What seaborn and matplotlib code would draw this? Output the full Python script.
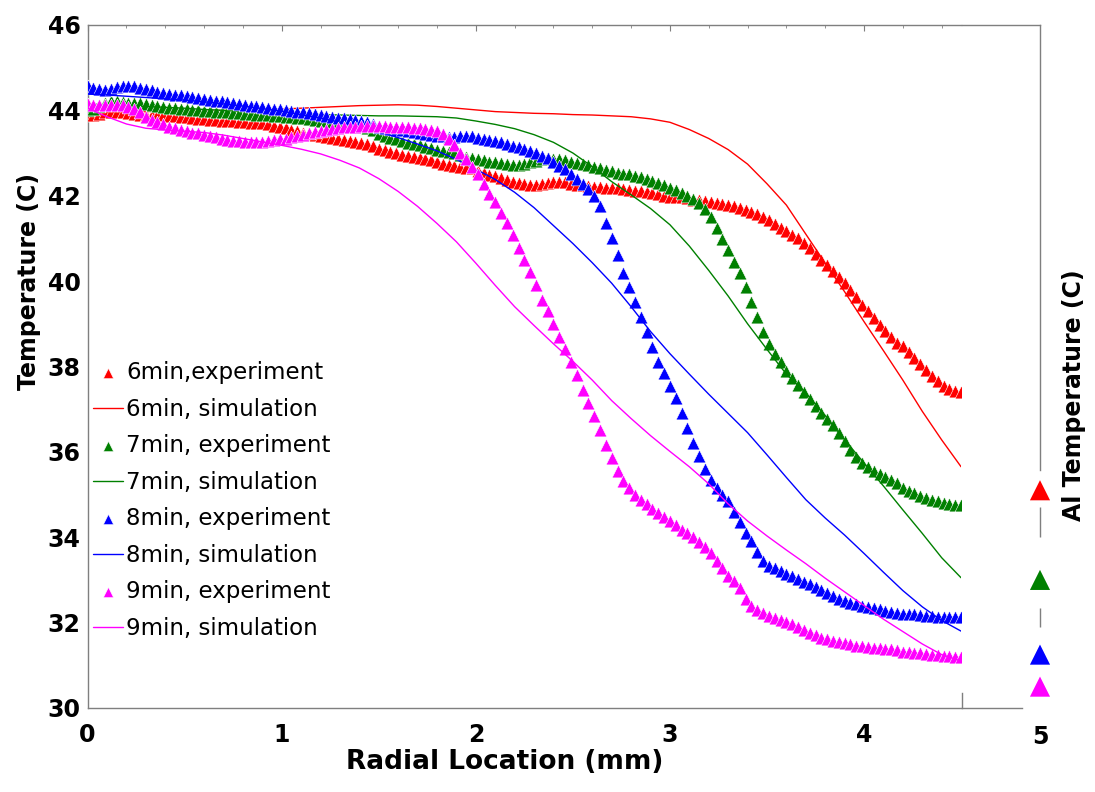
import numpy as np
import matplotlib
matplotlib.use("Agg")
import matplotlib.pyplot as plt
import seaborn as sns
from matplotlib.ticker import MultipleLocator

# radial positions (mm): experiment sampled every 0.03 mm, simulation every 0.1 mm
r_exp = np.round(np.arange(151) * 0.03, 2)
r_sim = np.round(np.arange(46) * 0.1, 1)

exp_6min = [
    43.90, 43.90, 43.92, 43.95, 43.96, 43.96, 43.95, 43.93, 43.91, 43.90,
    43.90, 43.89, 43.89, 43.88, 43.87, 43.86, 43.85, 43.84, 43.82, 43.80,
    43.79, 43.78, 43.77, 43.76, 43.75, 43.74, 43.73, 43.72, 43.71, 43.70,
    43.70, 43.68, 43.64, 43.61, 43.58, 43.55, 43.51, 43.48, 43.45, 43.42,
    43.40, 43.38, 43.36, 43.34, 43.31, 43.28, 43.26, 43.24, 43.21, 43.17,
    43.10, 43.06, 43.02, 42.99, 42.96, 42.93, 42.90, 42.88, 42.86, 42.83,
    42.79, 42.75, 42.72, 42.70, 42.68, 42.66, 42.64, 42.58, 42.54, 42.49,
    42.45, 42.41, 42.37, 42.33, 42.30, 42.27, 42.25, 42.25, 42.27, 42.30,
    42.31, 42.32, 42.31, 42.28, 42.25, 42.24, 42.23, 42.21, 42.20, 42.19,
    42.18, 42.17, 42.15, 42.13, 42.12, 42.10, 42.08, 42.06, 42.03, 42.00,
    41.98, 41.97, 41.96, 41.94, 41.91, 41.89, 41.87, 41.85, 41.83, 41.80,
    41.78, 41.75, 41.71, 41.67, 41.62, 41.56, 41.49, 41.42, 41.34, 41.25,
    41.17, 41.09, 41.00, 40.90, 40.78, 40.64, 40.50, 40.37, 40.23, 40.10,
    39.96, 39.80, 39.63, 39.45, 39.29, 39.13, 38.97, 38.82, 38.68, 38.56,
    38.47, 38.33, 38.19, 38.05, 37.92, 37.78, 37.65, 37.55, 37.47, 37.42,
    37.40,
]
exp_7min = [
    44.00, 44.03, 44.10, 44.18, 44.22, 44.22, 44.20, 44.18, 44.17, 44.16,
    44.14, 44.12, 44.10, 44.08, 44.06, 44.05, 44.03, 44.02, 44.01, 44.00,
    43.99, 43.98, 43.97, 43.96, 43.95, 43.94, 43.93, 43.92, 43.91, 43.90,
    43.89, 43.88, 43.87, 43.86, 43.85, 43.84, 43.83, 43.82, 43.80, 43.78,
    43.76, 43.74, 43.72, 43.70, 43.68, 43.66, 43.64, 43.62, 43.59, 43.55,
    43.45, 43.40, 43.36, 43.32, 43.28, 43.24, 43.21, 43.18, 43.14, 43.11,
    43.08, 43.05, 43.02, 42.99, 42.95, 42.91, 42.88, 42.85, 42.83, 42.80,
    42.78, 42.76, 42.74, 42.72, 42.72, 42.75, 42.78, 42.82, 42.86, 42.88,
    42.87, 42.85, 42.83, 42.80, 42.77, 42.74, 42.71, 42.68, 42.65, 42.61,
    42.57, 42.54, 42.52, 42.50, 42.47, 42.43, 42.39, 42.35, 42.30, 42.25,
    42.19, 42.13, 42.07, 42.00, 41.92, 41.82, 41.70, 41.50, 41.25, 40.98,
    40.72, 40.45, 40.18, 39.85, 39.50, 39.15, 38.80, 38.52, 38.30, 38.10,
    37.90, 37.73, 37.56, 37.40, 37.24, 37.08, 36.92, 36.78, 36.62, 36.45,
    36.25, 36.05, 35.88, 35.75, 35.64, 35.56, 35.48, 35.40, 35.33, 35.27,
    35.15, 35.09, 35.03, 34.97, 34.92, 34.88, 34.84, 34.80, 34.78, 34.76,
    34.75,
]
exp_8min = [
    44.58, 44.53, 44.49, 44.48, 44.50, 44.54, 44.58, 44.58, 44.56, 44.53,
    44.50, 44.47, 44.44, 44.41, 44.39, 44.37, 44.35, 44.33, 44.31, 44.29,
    44.27, 44.25, 44.23, 44.21, 44.19, 44.17, 44.15, 44.13, 44.11, 44.09,
    44.08, 44.06, 44.04, 44.03, 44.01, 43.99, 43.97, 43.95, 43.93, 43.91,
    43.89, 43.87, 43.85, 43.83, 43.81, 43.79, 43.77, 43.75, 43.72, 43.68,
    43.62, 43.59, 43.57, 43.55, 43.53, 43.51, 43.49, 43.47, 43.45, 43.43,
    43.41, 43.39, 43.37, 43.37, 43.40, 43.41, 43.39, 43.36, 43.33, 43.30,
    43.28, 43.25, 43.21, 43.17, 43.13, 43.09, 43.04, 42.99, 42.94, 42.88,
    42.80, 42.70, 42.62, 42.52, 42.40, 42.28, 42.16, 42.00, 41.75, 41.35,
    41.00, 40.60, 40.20, 39.85, 39.50, 39.15, 38.80, 38.45, 38.10, 37.85,
    37.55, 37.25, 36.90, 36.55, 36.20, 35.90, 35.60, 35.35, 35.15, 35.00,
    34.85, 34.60, 34.35, 34.10, 33.90, 33.65, 33.45, 33.33, 33.27, 33.22,
    33.14, 33.08, 33.02, 32.96, 32.90, 32.84, 32.76, 32.69, 32.62, 32.55,
    32.50, 32.46, 32.43, 32.40, 32.37, 32.34, 32.31, 32.28, 32.25, 32.23,
    32.21, 32.20, 32.19, 32.17, 32.16, 32.15, 32.14, 32.13, 32.13, 32.12,
    32.12,
]
exp_9min = [
    44.15, 44.13, 44.12, 44.12, 44.13, 44.13, 44.12, 44.08, 44.02, 43.95,
    43.85, 43.78, 43.72, 43.67, 43.62, 43.58, 43.54, 43.51, 43.48, 43.46,
    43.43, 43.40, 43.37, 43.34, 43.31, 43.29, 43.27, 43.26, 43.25, 43.25,
    43.26, 43.28, 43.30, 43.32, 43.34, 43.37, 43.40, 43.43, 43.46, 43.49,
    43.51, 43.54, 43.56, 43.58, 43.60, 43.61, 43.62, 43.63, 43.63, 43.63,
    43.63, 43.63, 43.62, 43.62, 43.61, 43.60, 43.59, 43.58, 43.57, 43.55,
    43.52, 43.45, 43.33, 43.18, 43.00, 42.85, 42.68, 42.50, 42.28, 42.05,
    41.85, 41.60, 41.36, 41.08, 40.78, 40.50, 40.22, 39.90, 39.56, 39.30,
    39.00, 38.70, 38.40, 38.10, 37.80, 37.45, 37.15, 36.85, 36.50, 36.15,
    35.85, 35.55, 35.32, 35.15, 35.00, 34.88, 34.77, 34.66, 34.56, 34.47,
    34.38, 34.28, 34.18, 34.10, 34.00, 33.88, 33.76, 33.62, 33.45, 33.28,
    33.10, 32.98, 32.80, 32.55, 32.40, 32.30, 32.22, 32.15, 32.10, 32.06,
    32.02, 31.96, 31.89, 31.82, 31.75, 31.70, 31.65, 31.61, 31.58, 31.55,
    31.52, 31.49, 31.46, 31.44, 31.42, 31.41, 31.40, 31.39, 31.37, 31.35,
    31.32, 31.30, 31.29, 31.28, 31.27, 31.25, 31.24, 31.22, 31.21, 31.20,
    31.20,
]

sim_6min = [
    43.95, 43.96, 43.97, 43.97, 43.98, 43.98, 43.99, 44.00, 44.01, 44.02,
    44.03, 44.05, 44.07, 44.09, 44.11, 44.12, 44.13, 44.12, 44.09, 44.05,
    44.01, 43.97, 43.95, 43.93, 43.92, 43.90, 43.89, 43.87, 43.85, 43.80,
    43.72, 43.55, 43.34, 43.08, 42.74, 42.28, 41.78, 41.10, 40.42, 39.75,
    39.05, 38.37, 37.68, 36.95, 36.28, 35.65,
]
sim_7min = [
    44.15, 44.13, 44.11, 44.09, 44.07, 44.05, 44.02, 44.00, 43.97, 43.95,
    43.93, 43.91, 43.90, 43.89, 43.88, 43.87, 43.87, 43.86, 43.85, 43.82,
    43.75, 43.67, 43.57, 43.43, 43.25, 43.00, 42.68, 42.33, 42.02, 41.70,
    41.32, 40.82, 40.25, 39.65, 39.00, 38.40, 37.82, 37.38, 36.85, 36.28,
    35.74, 35.20, 34.64, 34.09, 33.52, 33.05,
]
sim_8min = [
    44.38, 44.36, 44.33, 44.30, 44.27, 44.24, 44.20, 44.15, 44.10, 44.04,
    43.98, 43.90, 43.82, 43.72, 43.62, 43.50, 43.36, 43.21, 43.05, 42.85,
    42.62, 42.38, 42.08, 41.72, 41.30, 40.88, 40.43, 39.95, 39.40, 38.82,
    38.30, 37.82, 37.35, 36.90, 36.45, 35.93, 35.40, 34.88, 34.45, 34.05,
    33.62, 33.18, 32.75, 32.37, 32.05, 31.80,
]
sim_9min = [
    44.05, 43.85, 43.68, 43.58, 43.54, 43.51, 43.48, 43.42, 43.34, 43.26,
    43.18, 43.09, 42.98, 42.83, 42.65, 42.40, 42.10, 41.75, 41.35, 40.92,
    40.42, 39.90, 39.40, 38.96, 38.53, 38.12, 37.68, 37.20, 36.78, 36.38,
    36.01, 35.65, 35.25, 34.78, 34.38, 34.03, 33.70, 33.38, 33.04, 32.72,
    32.40, 32.08, 31.79, 31.50, 31.25, 31.10,
]

# Al temperature readings shown on the right-hand scale
al_x = [5, 5, 5, 5]
al_temp = [35.1, 33.0, 31.25, 30.5]

times = ["6min", "7min", "8min", "9min"]
colors = ["#FF0000", "#008000", "#0000FF", "#FF00FF"]
exp_labels = ["6min,experiment", "7min, experiment", "8min, experiment", "9min, experiment"]
sim_labels = ["6min, simulation", "7min, simulation", "8min, simulation", "9min, simulation"]

sns.set_style("white")
plt.rcParams["font.family"] = ["DejaVu Sans"]
grey = "#7f7f7f"

fig = plt.figure(figsize=(10.95, 7.92), dpi=100)
ax = fig.add_axes([0.080, 0.1061, 0.7977, 0.8624])

exp_series = [exp_6min, exp_7min, exp_8min, exp_9min]
sim_series = [sim_6min, sim_7min, sim_8min, sim_9min]
for i in range(4):
    sns.scatterplot(x=r_exp, y=exp_series[i], marker="^", s=85, color=colors[i],
                    edgecolor="white", linewidth=0.4, label=exp_labels[i],
                    zorder=3 + 2 * i, ax=ax)
    sns.lineplot(x=r_sim, y=sim_series[i], color=colors[i], linewidth=1.0,
                 label=sim_labels[i], zorder=4 + 2 * i, ax=ax)

ax.set_xlim(0, 4.5)
ax.set_ylim(30, 46)
ax.xaxis.set_major_locator(MultipleLocator(1))
ax.xaxis.set_minor_locator(MultipleLocator(0.2))
ax.yaxis.set_major_locator(MultipleLocator(2))
ax.yaxis.set_minor_locator(MultipleLocator(1))
ax.tick_params(which="both", direction="in", top=True, right=False, color=grey,
               labelsize=17, labelcolor="black")
ax.tick_params(which="major", length=4)
ax.tick_params(which="minor", length=2.5)
ax.tick_params(axis="x", pad=11)
ax.tick_params(axis="y", pad=5)
plt.setp(ax.get_xticklabels() + ax.get_yticklabels(), fontweight="bold")

ax.spines["right"].set_visible(False)
for s in ["left", "bottom", "top"]:
    ax.spines[s].set_color(grey)
    ax.spines[s].set_linewidth(1.0)

ax.set_xlabel("Radial Location (mm)", fontsize=19, fontweight="bold", color="black")
ax.set_ylabel("Temperature (C)", fontsize=17, fontweight="bold", color="black")
ax.xaxis.set_label_coords(0.478, -0.060)
ax.yaxis.set_label_coords(-0.053, 0.624)

leg = ax.legend(loc="lower left", bbox_to_anchor=(0.006, 0.100), frameon=False,
                fontsize=16.5, handlelength=1.3, handletextpad=0.15, labelspacing=0.59,
                borderaxespad=0, borderpad=0, scatterpoints=1, markerscale=0.8)
for t in leg.get_texts():
    t.set_color("black")

# narrow panel on the right for the Al temperature readings
ax2 = fig.add_axes([962 / 1095, 0.1061, 78 / 1095, 0.8624])
ax2.patch.set_alpha(0)
sns.scatterplot(x=al_x, y=al_temp, hue=times, palette=colors, marker="^", s=210,
                linewidth=0, legend=False, clip_on=False, zorder=5, ax=ax2)
ax2.set_xlim(4.5, 5.0)
ax2.set_ylim(30, 46)
ax2.set_xticks([5])
ax2.set_xticklabels(["5"], fontsize=17, fontweight="bold", color="black")
ax2.set_yticks([])
ax2.tick_params(axis="x", length=0, pad=12)
for s in ax2.spines.values():
    s.set_color(grey)
    s.set_linewidth(1.0)
ax2.spines["left"].set_bounds(30, 30.35)
ax2.spines["right"].set_bounds(35.57, 46)
ax2.spines["bottom"].set_bounds(4.5, 4.885)
ax2.vlines([5, 5], [34.0, 31.9], [34.7, 32.35], color=grey, linewidth=1.0, clip_on=False)
ax2.set_xlabel("")
ax2.yaxis.set_label_position("right")
ax2.set_ylabel("Al Temperature (C)", fontsize=17, fontweight="bold", color="black")
ax2.yaxis.set_label_coords(1.28, 0.458)

fig.savefig("out.png", dpi=100)
